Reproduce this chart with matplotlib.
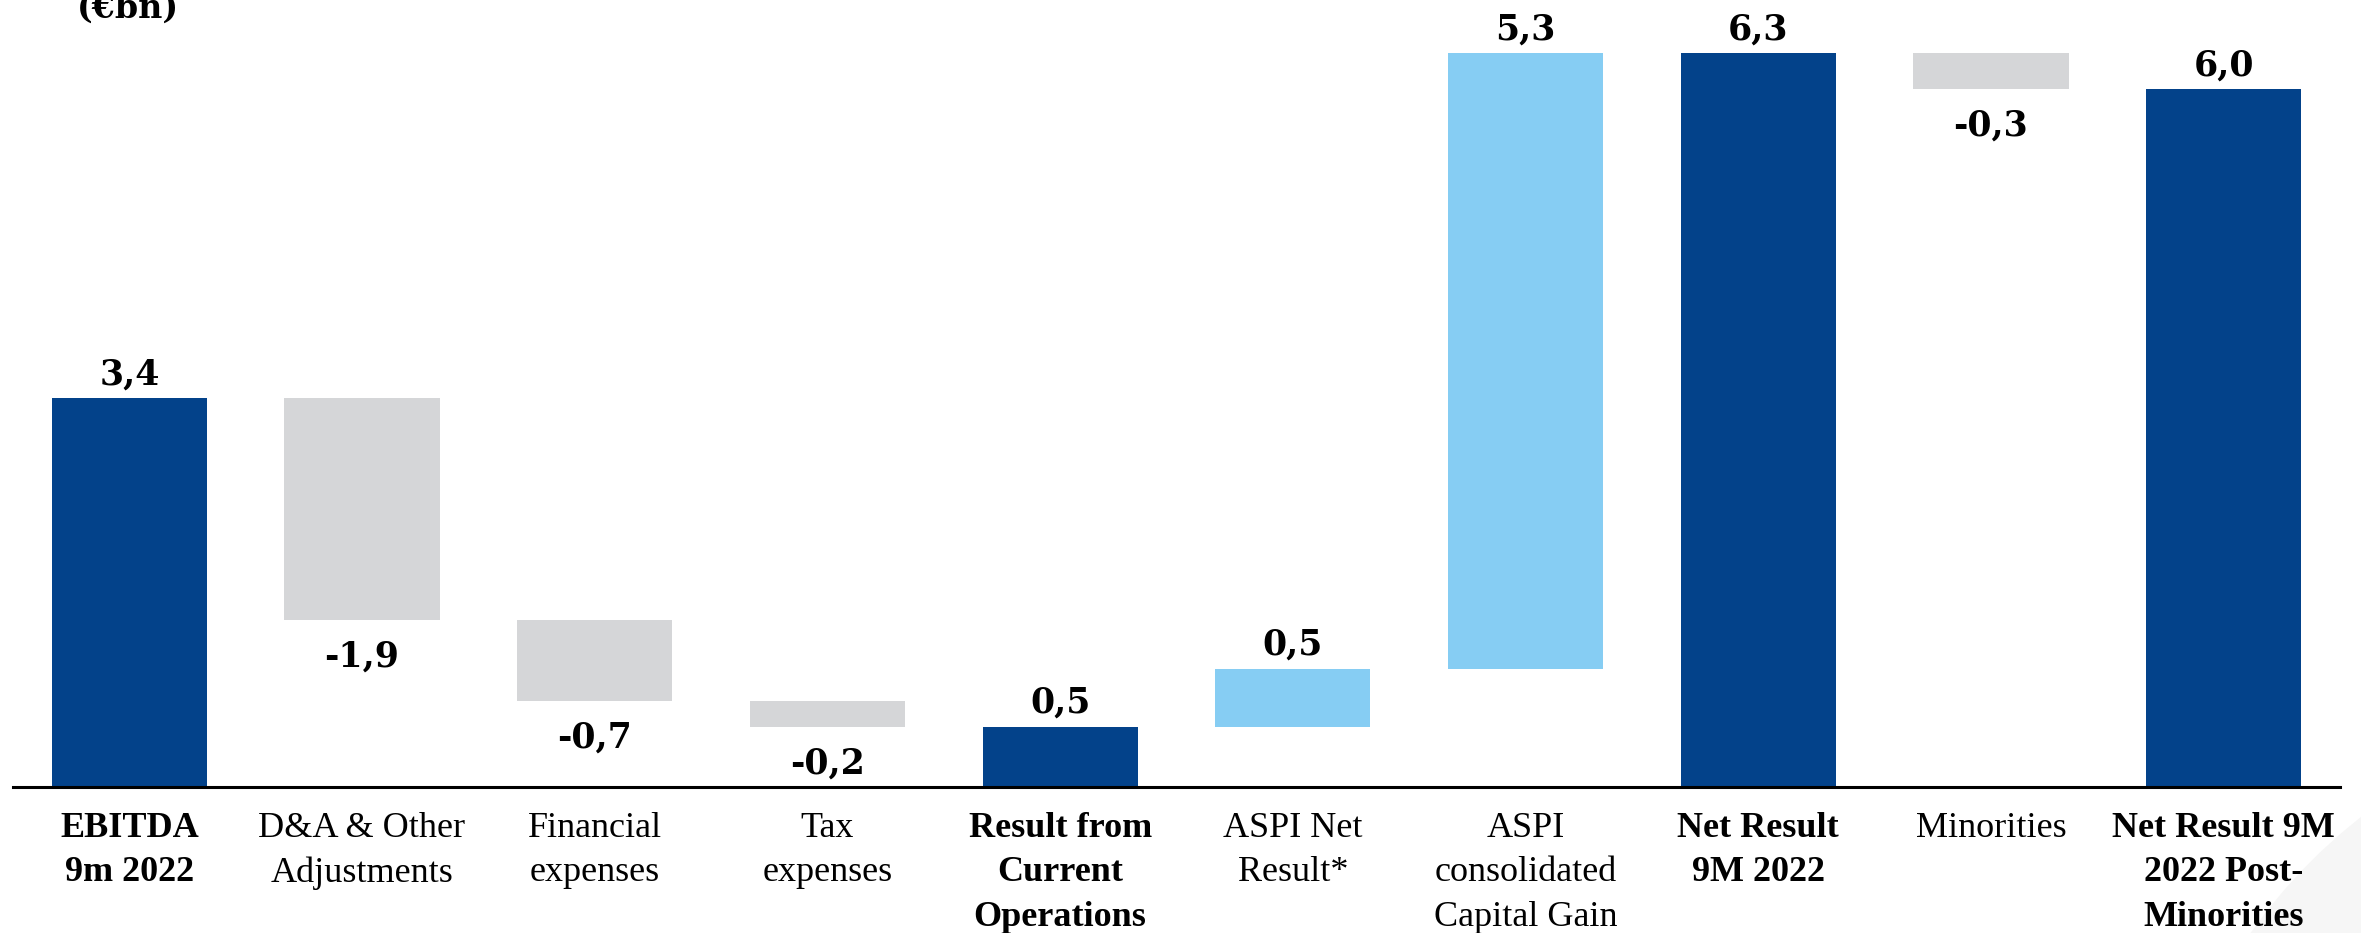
import matplotlib
matplotlib.use('Agg')
import matplotlib.pyplot as plt
from matplotlib.patches import Circle

# data (EUR bn)
categories = ['EBITDA\n9m 2022', 'D&A & Other\nAdjustments', 'Financial\nexpenses',
              'Tax\nexpenses', 'Result from\nCurrent\nOperations', 'ASPI Net\nResult*',
              'ASPI\nconsolidated\nCapital Gain', 'Net Result\n9M 2022', 'Minorities',
              'Net Result 9M\n2022 Post-\nMinorities']
kinds = ['total', 'delta', 'delta', 'delta', 'total', 'delta', 'delta', 'total', 'delta', 'total']
amounts = [3.36, -1.92, -0.70, -0.22, 0.52, 0.50, 5.32, 6.34, -0.31, 6.03]

DARK = '#03428A'
LIGHT = '#86CDF3'
GREY = '#D5D6D8'

fig = plt.figure(figsize=(23.61, 9.33), dpi=100)

# faint decorative arc bottom right
fig.patches.append(Circle((27.0, -3.17), 5.5, transform=fig.dpi_scale_trans,
                          facecolor='#F6F6F6', edgecolor='none', zorder=-1))

ax = fig.add_axes([13/2361, 146/933, 2327/2361, 787/933])
ax.patch.set_visible(False)

running = 0.
for i, (k, v) in enumerate(zip(kinds, amounts)):
    if k == 'total':
        bottom, height, color = 0., v, DARK
        running = v
    else:
        bottom = running if v > 0 else running + v
        height = abs(v)
        color = LIGHT if v > 0 else GREY
        running += v
    ax.bar(i, height, bottom=bottom, width=0.667, color=color, zorder=2)

    txt = ('%.1f' % v).replace('.', ',')
    if v > 0:
        ax.annotate(txt, (i, bottom + height), xytext=(0, 10), textcoords='offset points',
                    ha='center', va='baseline', fontsize=25, fontweight='bold',
                    family='DejaVu Serif')
    else:
        ax.annotate(txt, (i, bottom), xytext=(0, -14), textcoords='offset points',
                    ha='center', va='top', fontsize=25, fontweight='bold',
                    family='DejaVu Serif')

ax.set_xlim(-0.5, 9.5)
ax.set_ylim(0, 6.80)
for s in ['top', 'right', 'left']:
    ax.spines[s].set_visible(False)
ax.spines['bottom'].set_linewidth(2.2)
ax.spines['bottom'].set_color('black')
ax.set_yticks([])
ax.set_xticks(range(len(categories)))
ax.set_xticklabels(categories, fontsize=26, family='Liberation Serif', linespacing=1.45)
ax.tick_params(axis='x', length=0, pad=18)
for i, lab in enumerate(ax.get_xticklabels()):
    if kinds[i] == 'total':
        lab.set_fontweight('bold')

fig.text(77/2361, 1 - 18/933, '(€bn)', fontsize=24, fontweight='bold',
         family='DejaVu Serif', ha='left', va='baseline')

fig.savefig('out.png', dpi=100)
